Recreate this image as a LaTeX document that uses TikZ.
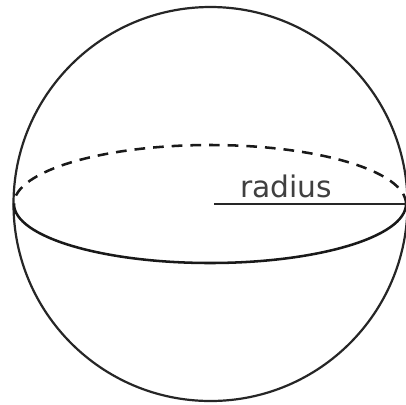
\documentclass[tikz,border=0pt]{standalone}
\usepackage{fontspec}
\setmainfont{DejaVu Sans}
\tikzset{px/.style={x=0.75pt,y=-0.75pt},ln/.style={line width=1.65pt,black!85},eq/.style={line width=1.9pt,black!90}}
\begin{document}
\begin{tikzpicture}[px]
\useasboundingbox (0,0) rectangle (406,404);
\fill[white] (0,0) rectangle (406,404);
\coordinate (c) at (210.5,204);
\coordinate (r) at (406,204);
\coordinate (m) at (214,204);
\draw[ln] (c) circle[radius=197];
\draw[eq] (14,204) arc[start angle=180,end angle=0,x radius=196,y radius=59];
\draw[eq,dash pattern=on 8pt off 6pt] (406,204) arc[start angle=360,end angle=180,x radius=196,y radius=59];
\draw[ln] (m) -- (r);
\node[font=\fontsize{22.3pt}{24pt}\selectfont,black!75,inner sep=0pt,anchor=base] (t) at (286,197.5) {radius};
\end{tikzpicture}
\end{document}
